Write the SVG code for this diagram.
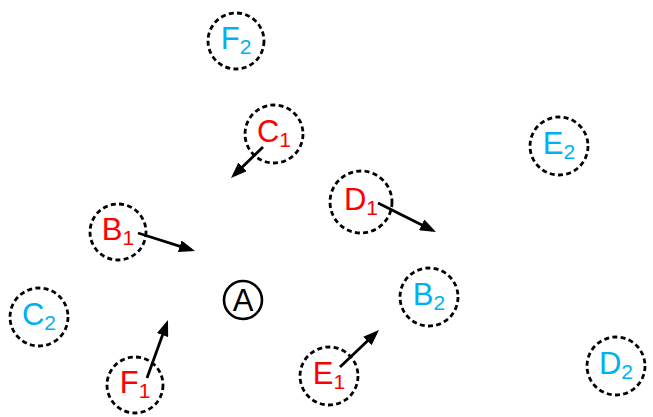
<svg xmlns="http://www.w3.org/2000/svg" width="653" height="417" viewBox="0 0 653 417">
<defs>
<style>
.ring{fill:none;stroke:#000;stroke-width:2.8;stroke-dasharray:5 3.3}
.lbl{font-family:"Liberation Sans",Arial,sans-serif;font-size:31px;text-anchor:middle}
.sub{font-size:21px}
.red{fill:#FF0000}
.blue{fill:#00B0F0}
.arr{stroke:#000;stroke-width:2.8;fill:none;marker-end:url(#ah)}
</style>
<marker id="ah" markerUnits="userSpaceOnUse" markerWidth="16" markerHeight="12" refX="12" refY="6" orient="auto">
<path d="M0,0 L16,6 L0,12 z" fill="#000"/>
</marker>
</defs>
<rect width="653" height="417" fill="#fff"/>
<g id="F2"><circle class="ring" cx="236" cy="41" r="28"/><text class="lbl blue" x="236" y="49">F<tspan class="sub" dy="5">2</tspan></text></g>
<g id="E2"><circle class="ring" cx="559" cy="146" r="29"/><text class="lbl blue" x="559" y="154">E<tspan class="sub" dy="5">2</tspan></text></g>
<g id="B2"><circle class="ring" cx="429" cy="297" r="29"/><text class="lbl blue" x="429" y="305">B<tspan class="sub" dy="5">2</tspan></text></g>
<g id="C2"><circle class="ring" cx="39" cy="317" r="29"/><text class="lbl blue" x="39" y="325">C<tspan class="sub" dy="5">2</tspan></text></g>
<g id="D2"><circle class="ring" cx="616" cy="366" r="29"/><text class="lbl blue" x="616" y="374">D<tspan class="sub" dy="5">2</tspan></text></g>
<g id="C1"><circle class="ring" cx="274" cy="134" r="29"/><text class="lbl red" x="274" y="142">C<tspan class="sub" dy="5">1</tspan></text></g>
<g id="B1"><circle class="ring" cx="118" cy="232" r="28"/><text class="lbl red" x="118" y="240">B<tspan class="sub" dy="5">1</tspan></text></g>
<g id="D1"><circle class="ring" cx="361" cy="202" r="31"/><text class="lbl red" x="361" y="210">D<tspan class="sub" dy="5">1</tspan></text></g>
<g id="F1"><circle class="ring" cx="135" cy="385" r="28"/><text class="lbl red" x="135" y="393">F<tspan class="sub" dy="5">1</tspan></text></g>
<g id="E1"><circle class="ring" cx="329" cy="376" r="29"/><text class="lbl red" x="329" y="384">E<tspan class="sub" dy="5">1</tspan></text></g>
<g id="A"><circle cx="243" cy="300" r="19" fill="none" stroke="#000" stroke-width="2.6"/><text x="243" y="311" style="font-family:'Liberation Sans',Arial,sans-serif;font-size:31px;text-anchor:middle" fill="#000">A</text></g>
<g id="connectors">
<line class="arr" x1="138" y1="233" x2="191.2" y2="249.8"/>
<line class="arr" x1="263" y1="147" x2="233.9" y2="175.2"/>
<line class="arr" x1="378" y1="203" x2="432.4" y2="230.2"/>
<line class="arr" x1="147" y1="378" x2="166.6" y2="323.8"/>
<line class="arr" x1="340" y1="367" x2="376.1" y2="332.8"/>
</g>
</svg>
